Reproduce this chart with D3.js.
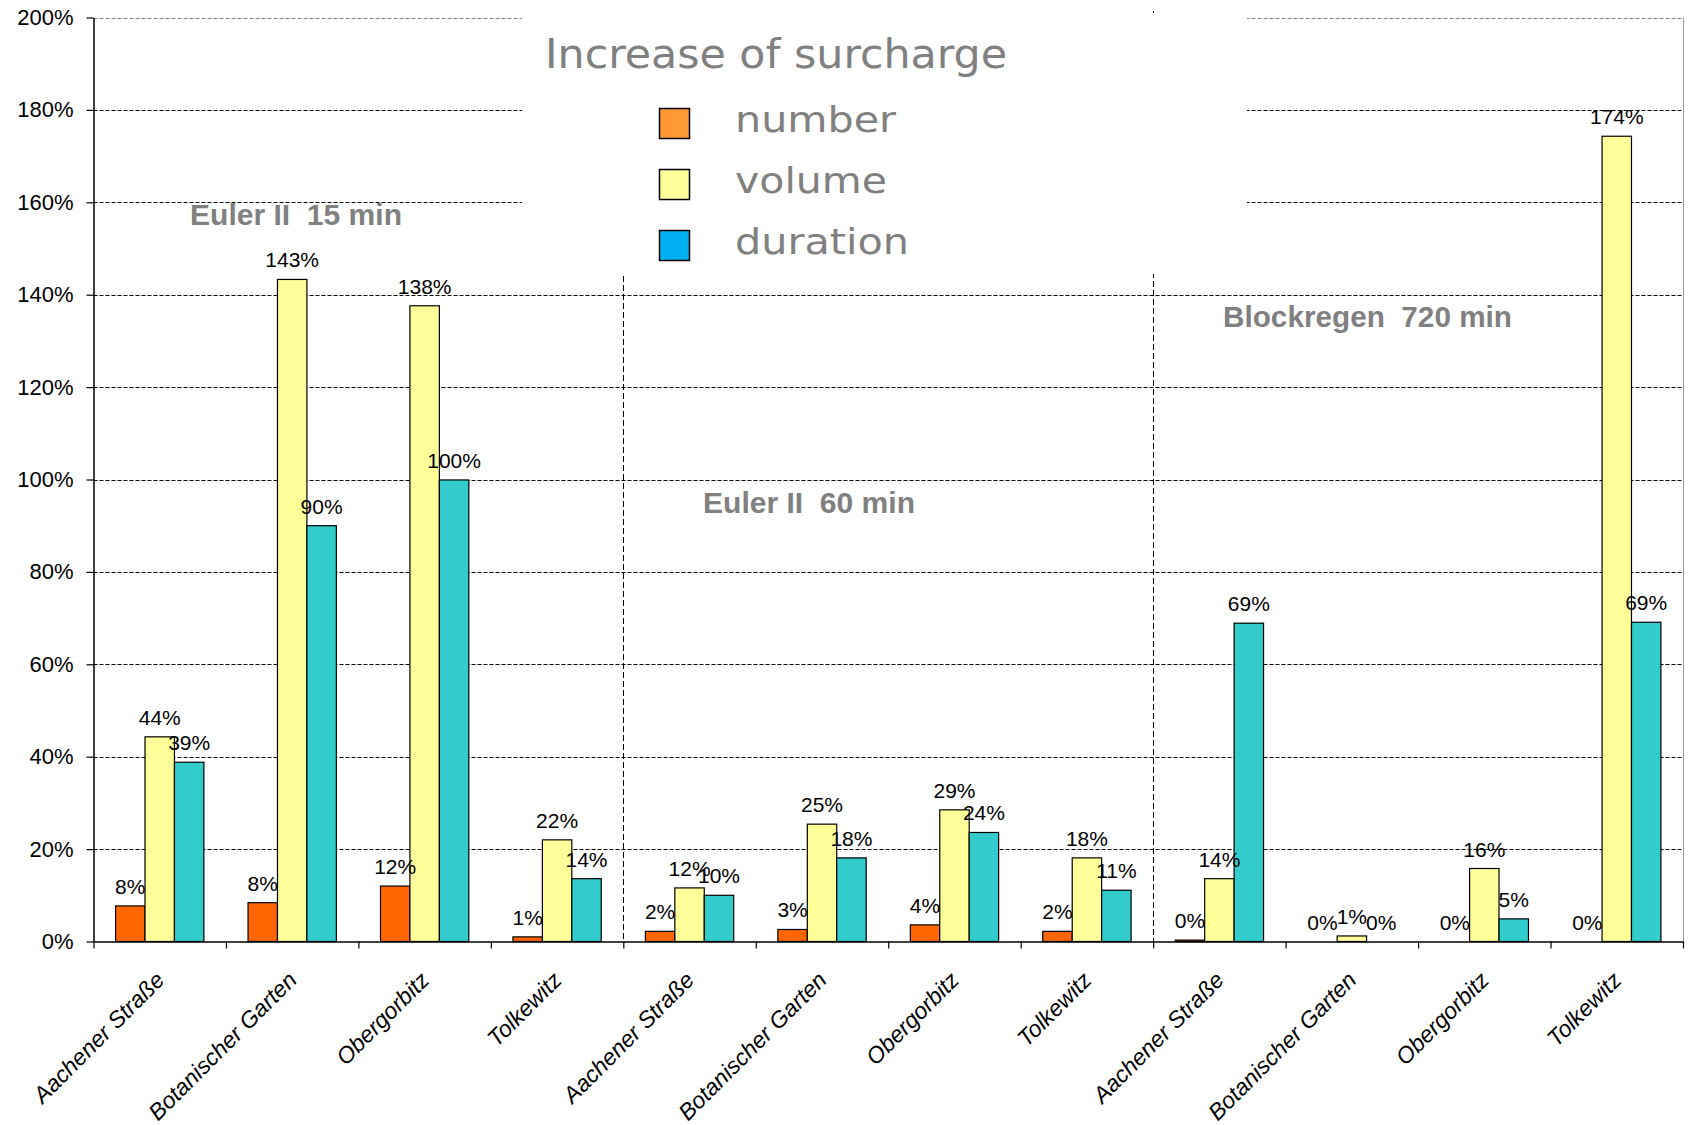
<!DOCTYPE html>
<html>
<head>
<meta charset="utf-8">
<script src="https://cdn.jsdelivr.net/npm/d3@7"></script>
<style>
  html, body { margin: 0; padding: 0; background: #fff; }
  svg { display: block; font-family: "Liberation Sans", Arial, sans-serif; }
</style>
</head>
<body>
<svg id="chart" width="1688" height="1125"></svg>
<script>
// Stations, repeated for each rain scenario
const categories = [
  "Aachener Straße", "Botanischer Garten", "Obergorbitz", "Tolkewitz",
  "Aachener Straße", "Botanischer Garten", "Obergorbitz", "Tolkewitz",
  "Aachener Straße", "Botanischer Garten", "Obergorbitz", "Tolkewitz"
];
const seriesNames = ["number", "volume", "duration"];

// Increase of surcharge in percent
const numberPct   = [7.7, 8.4, 12.0, 1.0, 2.2, 2.6, 3.6, 2.2, 0.3, 0, 0, 0];
const volumePct   = [44.3, 143.3, 137.6, 22.0, 11.6, 25.4, 28.5, 18.1, 13.6, 1.2, 15.8, 174.3];
const durationPct = [38.8, 90.0, 99.9, 13.6, 10.0, 18.1, 23.6, 11.1, 68.9, 0, 4.9, 69.1];

const barColors    = ["#FF6600", "#FFFF99", "#33CCCC"];
const legendColors = ["#FF9933", "#FFFF99", "#00B0F0"];
const yTicks = [0, 20, 40, 60, 80, 100, 120, 140, 160, 180, 200];
const groupTitles = ["Euler II  15 min", "Euler II  60 min", "Blockregen  720 min"];
const legendTitle = "Increase of surcharge";

const seriesValues = [numberPct, volumePct, durationPct];

const svg = d3.select("#chart");
const plot = { left: 93.5, right: 1683, top: 17.5, bottom: 941.5 };

const x = d3.scaleBand().domain(d3.range(categories.length)).range([plot.left, plot.right]);
const bw = x.bandwidth();
// three bars per station, gap of 1.5 bar widths between stations
const xs = d3.scaleBand().domain(seriesNames).range([bw * 0.75 / 4.5, bw * 3.75 / 4.5]);
const y = d3.scaleLinear().domain([0, 200]).range([plot.bottom, plot.top]);
const xEdge = d3.scaleLinear().domain([0, categories.length]).range([plot.left, plot.right]);
const crisp = v => Math.round(v) + 0.5;

// horizontal gridlines
svg.append("g")
  .selectAll("line")
  .data(yTicks.filter(d => d > 0))
  .join("line")
  .attr("x1", plot.left).attr("x2", plot.right)
  .attr("y1", d => crisp(y(d))).attr("y2", d => crisp(y(d)))
  .attr("stroke", d => d === 200 ? "#808080" : "#000")
  .attr("stroke-width", 1)
  .attr("stroke-dasharray", "4,2");

// right border of the plot area
svg.append("line")
  .attr("x1", crisp(plot.right)).attr("x2", crisp(plot.right))
  .attr("y1", y(200)).attr("y2", y(0))
  .attr("stroke", "#9a9a9a").attr("stroke-width", 1);

// dashed separators between the rain scenarios
const separators = [{ at: 4, from: 276 }, { at: 8, from: 11 }];
svg.append("g")
  .selectAll("line")
  .data(separators)
  .join("line")
  .attr("x1", d => crisp(xEdge(d.at))).attr("x2", d => crisp(xEdge(d.at)))
  .attr("y1", d => d.from).attr("y2", plot.bottom)
  .attr("stroke", "#000").attr("stroke-width", 1)
  .attr("stroke-dasharray", "6,3");

// legend background
svg.append("rect")
  .attr("x", 522).attr("y", 13).attr("width", 725).attr("height", 261)
  .attr("fill", "#fff");

// bars
const barData = [];
categories.forEach((c, i) => {
  seriesNames.forEach((s, j) => {
    barData.push({ i, s, j, v: seriesValues[j][i] });
  });
});

svg.append("g")
  .selectAll("rect")
  .data(barData)
  .join("rect")
  .attr("x", d => x(d.i) + xs(d.s))
  .attr("y", d => y(d.v))
  .attr("width", xs.bandwidth())
  .attr("height", d => y(0) - y(d.v))
  .attr("fill", d => barColors[d.j])
  .attr("stroke", "#000")
  .attr("stroke-width", 1.2);

// y axis
const yAxis = svg.append("g")
  .attr("transform", `translate(${plot.left},0)`)
  .call(d3.axisLeft(y).tickValues(yTicks).tickFormat(d => d + "%").tickSize(7).tickPadding(13).tickSizeOuter(0));
yAxis.select(".domain").attr("stroke", "#000").attr("stroke-width", 1.5);
yAxis.selectAll(".tick line").attr("stroke", "#000").attr("stroke-width", 1.2);
yAxis.selectAll(".tick text")
  .attr("font-family", "'Liberation Sans', Arial, sans-serif")
  .attr("font-size", 22).attr("fill", "#000");

// x axis with ticks between stations
const xAxis = svg.append("g")
  .attr("transform", `translate(0,${plot.bottom})`)
  .call(d3.axisBottom(xEdge).tickValues(d3.range(categories.length + 1)).tickFormat("").tickSize(7).tickSizeOuter(0));
xAxis.select(".domain").attr("stroke", "#000").attr("stroke-width", 1.5);
xAxis.selectAll(".tick line").attr("stroke", "#000").attr("stroke-width", 1.2);

// station names
svg.append("g")
  .selectAll("text")
  .data(categories)
  .join("text")
  .attr("transform", (d, i) => `translate(${x(i) + bw / 2 + 6},${plot.bottom + 40}) rotate(-45)`)
  .attr("text-anchor", "end")
  .attr("font-style", "italic")
  .attr("font-size", 23)
  .attr("fill", "#000")
  .text(d => d);

// value labels
svg.append("g")
  .selectAll("text")
  .data(barData)
  .join("text")
  .attr("x", d => x(d.i) + xs(d.s) + xs.bandwidth() / 2)
  .attr("y", d => y(d.v) - 12)
  .attr("text-anchor", "middle")
  .attr("font-size", 21)
  .attr("fill", "#000")
  .text(d => Math.round(d.v) + "%");

// scenario titles
const titlePos = [
  { x: 190, y: 225, len: 212 },
  { x: 703, y: 513, len: 212 },
  { x: 1223, y: 327, len: 289 }
];
svg.append("g")
  .selectAll("text")
  .data(groupTitles)
  .join("text")
  .attr("x", (d, i) => titlePos[i].x)
  .attr("y", (d, i) => titlePos[i].y)
  .attr("textLength", (d, i) => titlePos[i].len)
  .attr("lengthAdjust", "spacingAndGlyphs")
  .attr("font-size", 30)
  .attr("font-weight", "bold")
  .attr("fill", "#808080")
  .style("white-space", "pre")
  .text(d => d);

// legend
const legend = svg.append("g").attr("font-family", "'DejaVu Sans', Verdana, sans-serif").attr("fill", "#808080");
legend.append("text")
  .attr("x", 545).attr("y", 68)
  .attr("font-size", 40)
  .attr("textLength", 462).attr("lengthAdjust", "spacingAndGlyphs")
  .text(legendTitle);

const legendRowY = [108, 169, 230];
const legendLen = [161, 152, 174];
const rows = legend.selectAll("g.item")
  .data(seriesNames)
  .join("g")
  .attr("class", "item")
  .attr("transform", (d, i) => `translate(0,${legendRowY[i]})`);
rows.append("rect")
  .attr("x", 659.5).attr("y", 0.5).attr("width", 30).attr("height", 30)
  .attr("fill", (d, i) => legendColors[i])
  .attr("stroke", "#000").attr("stroke-width", 1.5);
rows.append("text")
  .attr("x", 735).attr("y", 24)
  .attr("font-size", 35)
  .attr("textLength", (d, i) => legendLen[i]).attr("lengthAdjust", "spacingAndGlyphs")
  .text(d => d);
</script>
</body>
</html>
